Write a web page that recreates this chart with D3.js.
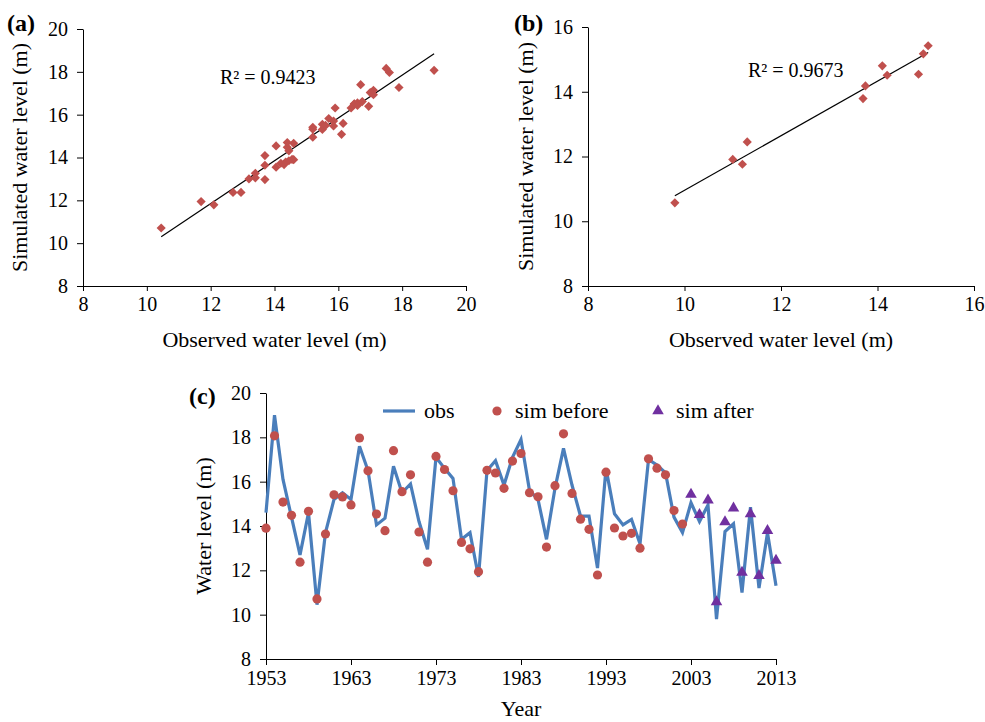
<!DOCTYPE html>
<html>
<head>
<meta charset="utf-8">
<script src="https://cdn.jsdelivr.net/npm/d3@7"></script>
<style>
  body { margin: 0; background: #fff; }
  svg text { font-family: "Liberation Serif", "Times New Roman", serif; fill: #000; }
</style>
</head>
<body>
<svg id="fig" width="985" height="722" font-family="Liberation Serif, serif"></svg>
<script>
// Annual water levels (m), 1953–2013
const years = [1953,1954,1955,1956,1957,1958,1959,1960,1961,1962,1963,1964,1965,1966,1967,1968,1969,1970,
  1971,1972,1973,1974,1975,1976,1977,1978,1979,1980,1981,1982,1983,1984,1985,1986,1987,1988,1989,1990,
  1991,1992,1993,1994,1995,1996,1997,1998,1999,2000,2001,2002,2003,2004,2005,2006,2007,2008,2009,2010,
  2011,2012,2013];

const observed = [14.6,19.0,16.1,14.4,12.7,14.6,10.45,13.7,15.2,15.5,15.2,17.6,16.5,14.05,14.35,16.7,15.5,15.9,
  14.2,12.95,17.1,16.6,16.15,13.4,13.7,11.7,16.5,16.95,15.85,17.1,17.9,15.6,15.2,13.4,15.7,17.5,15.85,14.45,
  14.45,12.1,16.6,14.55,14.05,14.3,13.2,17.0,16.75,16.4,14.4,13.7,15.05,14.2,14.95,9.8,13.75,14.1,11.0,14.85,
  11.2,13.7,11.3];

// Simulated levels before the change (1953–2002)
const simBeforeYears = years.slice(0, 50);
const simBefore = [13.9,18.07,15.08,14.48,12.37,14.66,10.71,13.64,15.41,15.31,14.95,17.97,16.49,14.54,13.79,17.4,
  15.55,16.31,13.73,12.37,17.14,16.55,15.59,13.26,12.97,11.94,16.51,16.39,15.7,16.93,17.27,15.5,15.32,13.05,
  15.82,18.16,15.47,14.31,13.85,11.79,16.43,13.91,13.55,13.67,13.0,17.03,16.61,16.31,14.7,14.09];

// Simulated levels after the change (2003–2013)
const simAfterYears = years.slice(50);
const simAfter = [15.42,14.51,15.17,10.57,14.18,14.8,11.91,14.54,11.76,13.79,12.45];

const ticksA = [8,10,12,14,16,18,20];
const ticksB = [8,10,12,14,16];
const levelTicks = [8,10,12,14,16,18,20];
const yearTicks = [1953,1963,1973,1983,1993,2003,2013];
const r2Labels = ["R² = 0.9423", "R² = 0.9673"];

const RED = "#C0504D", BLUE = "#4A7EBB", PURPLE = "#7030A0";
const SERIF = "Liberation Serif, Times New Roman, serif";
const svg = d3.select("#fig");

function styleAxis(g, size) {
  g.attr("font-family", SERIF).attr("font-size", size);
  g.selectAll("path.domain").attr("stroke", "#000").attr("stroke-width", 1);
  g.selectAll(".tick line").attr("stroke", "#000");
  g.selectAll(".tick text").attr("font-size", size).attr("fill", "#000")
    .attr("font-family", SERIF).style("font-family", SERIF);
}

// least-squares trend line over the observed range
function trend(xs, ys) {
  const mx = d3.mean(xs), my = d3.mean(ys);
  let sxy = 0, sxx = 0;
  xs.forEach((x, i) => { sxy += (x - mx) * (ys[i] - my); sxx += (x - mx) * (x - mx); });
  const b = sxy / sxx, a = my - b * mx;
  const x0 = d3.min(xs), x1 = d3.max(xs);
  return [[x0, a + b * x0], [x1, a + b * x1]];
}

const diamond = d3.symbol().type(d3.symbolSquare).size(42);

function scatterPanel(opts) {
  const x = d3.scaleLinear().domain(opts.domain).range(opts.xr);
  const y = d3.scaleLinear().domain(opts.domain).range(opts.yr);
  const g = svg.append("g");

  g.append("g").attr("transform", `translate(0,${opts.yr[0]})`)
    .call(d3.axisBottom(x).tickValues(opts.ticks).tickSize(5).tickSizeOuter(0).tickPadding(6))
    .call(a => styleAxis(a, 20));
  g.append("g").attr("transform", `translate(${opts.xr[0]},0)`)
    .call(d3.axisLeft(y).tickValues(opts.ticks).tickSize(6).tickSizeOuter(0).tickPadding(9))
    .call(a => styleAxis(a, 20));

  const line = trend(opts.xs, opts.ys);
  g.append("line")
    .attr("x1", x(line[0][0])).attr("y1", y(line[0][1]))
    .attr("x2", x(line[1][0])).attr("y2", y(line[1][1]))
    .attr("stroke", "#000").attr("stroke-width", 1.2);

  g.selectAll("path.pt").data(opts.xs.map((v, i) => [v, opts.ys[i]]))
    .join("path").attr("class", "pt")
    .attr("d", diamond)
    .attr("transform", d => `translate(${x(d[0])},${y(d[1])}) rotate(45)`)
    .attr("fill", RED);

  g.append("text").attr("x", opts.r2x).attr("y", opts.r2y).attr("font-size", 20).text(opts.r2);

  g.append("text").attr("x", (opts.xr[0] + opts.xr[1]) / 2).attr("y", 347)
    .attr("text-anchor", "middle").attr("font-size", 22).text("Observed water level (m)");
  g.append("text")
    .attr("transform", `translate(${opts.ytx},${(opts.yr[0] + opts.yr[1]) / 2}) rotate(-90)`)
    .attr("text-anchor", "middle").attr("font-size", 22).text("Simulated water level (m)");
  g.append("text").attr("x", opts.lx).attr("y", 31).attr("font-size", 24)
    .attr("font-weight", "bold").text(opts.label);
}

// (a) observed vs simulated, 1953–2002
scatterPanel({
  domain: [8, 20], xr: [83, 466], yr: [286, 29], ticks: ticksA,
  xs: observed.slice(0, 50), ys: simBefore,
  r2: r2Labels[0], r2x: 220, r2y: 84, ytx: 27, lx: 7, label: "(a)"
});

// (b) observed vs simulated, 2003–2013
scatterPanel({
  domain: [8, 16], xr: [588, 974], yr: [286, 27], ticks: ticksB,
  xs: observed.slice(50), ys: simAfter,
  r2: r2Labels[1], r2x: 748, r2y: 77, ytx: 533, lx: 514, label: "(b)"
});

// (c) time series
{
  const x = d3.scaleLinear().domain([1953, 2013]).range([266, 776]);
  const y = d3.scaleLinear().domain([8, 20]).range([659, 393]);
  const g = svg.append("g");

  g.append("g").attr("transform", "translate(0,659)")
    .call(d3.axisBottom(x).tickValues(yearTicks).tickFormat(d3.format("d")).tickSize(6).tickSizeOuter(0).tickPadding(6))
    .call(a => styleAxis(a, 20));
  g.append("g").attr("transform", "translate(266,0)")
    .call(d3.axisLeft(y).tickValues(levelTicks).tickSize(6).tickSizeOuter(0).tickPadding(9))
    .call(a => styleAxis(a, 20));

  g.append("path").datum(years.map((yr, i) => [yr, observed[i]]))
    .attr("d", d3.line().x(d => x(d[0])).y(d => y(d[1])))
    .attr("fill", "none").attr("stroke", BLUE).attr("stroke-width", 3.2)
    .attr("stroke-linejoin", "miter");

  g.selectAll("circle.sb").data(simBeforeYears.map((yr, i) => [yr, simBefore[i]]))
    .join("circle").attr("class", "sb")
    .attr("cx", d => x(d[0])).attr("cy", d => y(d[1])).attr("r", 4.6).attr("fill", RED);

  const tri = d3.symbol().type(d3.symbolTriangle).size(58);
  g.selectAll("path.sa").data(simAfterYears.map((yr, i) => [yr, simAfter[i]]))
    .join("path").attr("class", "sa")
    .attr("d", tri).attr("transform", d => `translate(${x(d[0])},${y(d[1])})`)
    .attr("fill", PURPLE);

  // legend
  const ly = 411;
  g.append("line").attr("x1", 383).attr("x2", 415).attr("y1", ly).attr("y2", ly)
    .attr("stroke", BLUE).attr("stroke-width", 3.2);
  g.append("text").attr("x", 424).attr("y", ly + 7).attr("font-size", 22).text("obs");
  g.append("circle").attr("cx", 497).attr("cy", ly).attr("r", 4.6).attr("fill", RED);
  g.append("text").attr("x", 515).attr("y", ly + 7).attr("font-size", 22).text("sim before");
  g.append("path").attr("d", tri).attr("transform", `translate(658,${ly})`).attr("fill", PURPLE);
  g.append("text").attr("x", 676).attr("y", ly + 7).attr("font-size", 22).text("sim after");

  g.append("text").attr("x", 521).attr("y", 716).attr("text-anchor", "middle").attr("font-size", 22).text("Year");
  g.append("text").attr("transform", "translate(211,526) rotate(-90)")
    .attr("text-anchor", "middle").attr("font-size", 22).text("Water level (m)");
  g.append("text").attr("x", 189).attr("y", 404).attr("font-size", 24)
    .attr("font-weight", "bold").text("(c)");
}
</script>
</body>
</html>
